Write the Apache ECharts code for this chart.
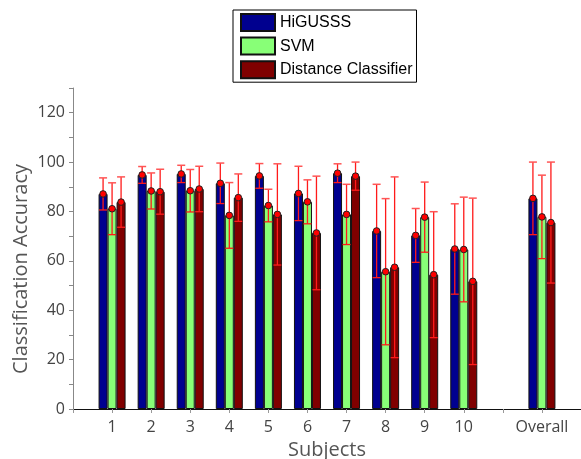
<!DOCTYPE html>
<html>
<head>
<meta charset="utf-8">
<script src="https://cdn.jsdelivr.net/npm/echarts@6/dist/echarts.min.js"></script>
<style>
  html, body { margin: 0; padding: 0; background: #fff; }
  #chart { width: 581px; height: 459px; }
</style>
</head>
<body>
<div id="chart"></div>
<script>
// Category slots: blank slots pad both ends and separate the overall group.
var categories = ['', '1', '2', '3', '4', '5', '6', '7', '8', '9', '10', '', 'Overall', ''];

// Mean classification accuracy (%) per subject, then overall.
var higusssMean  = [87.1, 94.8, 95.2, 91.4, 94.4, 87.3, 95.5, 72.1, 70.3, 64.8, 85.3];
var svmMean      = [81.1, 88.3, 88.4, 78.4, 82.4, 83.9, 78.8, 55.6, 77.7, 64.6, 77.8];
var distMean     = [83.8, 88.0, 89.1, 85.6, 78.8, 71.3, 94.3, 57.4, 54.4, 51.7, 75.5];

// Standard deviation for the error bars.
var higusssStd   = [6.5, 3.4, 3.5, 8.2, 5.0, 11.0, 3.8, 18.9, 10.9, 18.3, 14.7];
var svmStd       = [10.5, 7.3, 8.6, 13.3, 6.6, 8.9, 12.2, 29.6, 14.2, 21.2, 16.9];
var distStd      = [10.2, 9.1, 9.2, 9.6, 20.5, 23.0, 5.7, 36.6, 25.5, 33.7, 24.5];

var seriesNames  = ['HiGUSSS', 'SVM', 'Distance Classifier'];
var seriesColors = ['#00008f', '#88ff77', '#800000'];

// Map the 11 groups onto category slots 1..10 and 12.
var slotOf = [1, 2, 3, 4, 5, 6, 7, 8, 9, 10, 12];

function toSlots(values) {
  var out = categories.map(function () { return null; });
  values.forEach(function (v, i) { out[slotOf[i]] = v; });
  return out;
}

function errorData(means, stds) {
  return means.map(function (m, i) {
    return [slotOf[i], m - stds[i], m + stds[i], m];
  });
}

var BAR_W = 9;
var means = [higusssMean, svmMean, distMean];
var stds = [higusssStd, svmStd, distStd];

var series = [];
means.forEach(function (m, k) {
  series.push({
    name: seriesNames[k],
    type: 'bar',
    data: toSlots(m),
    barWidth: BAR_W,
    barGap: '0%',
    itemStyle: { color: seriesColors[k], borderColor: '#111', borderWidth: 1 },
    emphasis: { disabled: true },
    z: 2
  });
});

means.forEach(function (m, k) {
  var offset = (k - 1) * BAR_W;
  series.push({
    type: 'custom',
    data: errorData(m, stds[k]),
    z: 5,
    silent: true,
    renderItem: function (params, api) {
      var x = api.coord([api.value(0), 0])[0] + offset;
      var yLo = api.coord([api.value(0), api.value(1)])[1];
      var yHi = api.coord([api.value(0), api.value(2)])[1];
      var yM = api.coord([api.value(0), api.value(3)])[1];
      var cap = 4;
      var lineStyle = { stroke: '#ff1a1a', lineWidth: 1.3 };
      return {
        type: 'group',
        children: [
          { type: 'line', shape: { x1: x, y1: yLo, x2: x, y2: yHi }, style: lineStyle },
          { type: 'line', shape: { x1: x - cap, y1: yHi, x2: x + cap, y2: yHi }, style: { stroke: '#ff5555', lineWidth: 1.5 } },
          { type: 'line', shape: { x1: x - cap, y1: yLo, x2: x + cap, y2: yLo }, style: lineStyle },
          { type: 'circle', shape: { cx: x, cy: yM, r: 3.3 }, style: { fill: '#ff0000', stroke: '#222', lineWidth: 1 } }
        ]
      };
    }
  });
});

var chart = echarts.init(document.getElementById('chart'), null, { renderer: 'canvas' });
chart.setOption({
  animation: false,
  backgroundColor: '#fff',
  legend: {
    data: seriesNames,
    orient: 'vertical',
    left: 233,
    top: 10,
    icon: 'rect',
    itemWidth: 34,
    itemHeight: 17,
    itemGap: 4.6,
    padding: [3, 4, 3, 7],
    borderColor: '#000',
    borderWidth: 1,
    selectedMode: false,
    textStyle: { fontFamily: 'Liberation Sans, Arial, sans-serif', fontSize: 16, color: '#000' }
  },
  grid: { left: 73, right: 0, top: 88, bottom: 50, containLabel: false, outerBoundsMode: 'none' },
  xAxis: {
    type: 'category',
    data: categories,
    boundaryGap: false,
    name: 'Subjects',
    nameLocation: 'middle',
    nameGap: 29,
    nameTextStyle: { fontFamily: 'Open Sans', fontSize: 20, color: '#555' },
    axisLine: { lineStyle: { color: '#111', width: 1 } },
    axisTick: { show: true, interval: 0, length: 4, lineStyle: { color: '#999' } },
    axisLabel: { interval: 0, margin: 10, fontFamily: 'Open Sans', fontSize: 16, color: '#444' },
    splitLine: { show: false }
  },
  yAxis: {
    type: 'value',
    min: 0,
    max: 130,
    interval: 10,
    axisLine: { show: true, lineStyle: { color: '#888', width: 1 } },
    axisTick: { show: true, length: 4, lineStyle: { color: '#888' } },
    axisLabel: {
      margin: 8,
      fontFamily: 'Open Sans',
      fontSize: 16,
      color: '#444',
      formatter: function (v) { return (v % 20 === 0 && v <= 120) ? String(v) : ''; }
    },
    splitLine: { show: false }
  },
  graphic: [{
    type: 'text',
    x: 21,
    y: 269,
    rotation: Math.PI / 2,
    style: {
      text: 'Classification Accuracy',
      fontFamily: 'Open Sans',
      fontSize: 20,
      fill: '#555',
      align: 'center',
      verticalAlign: 'middle'
    }
  }],
  series: series
});
</script>
</body>
</html>
